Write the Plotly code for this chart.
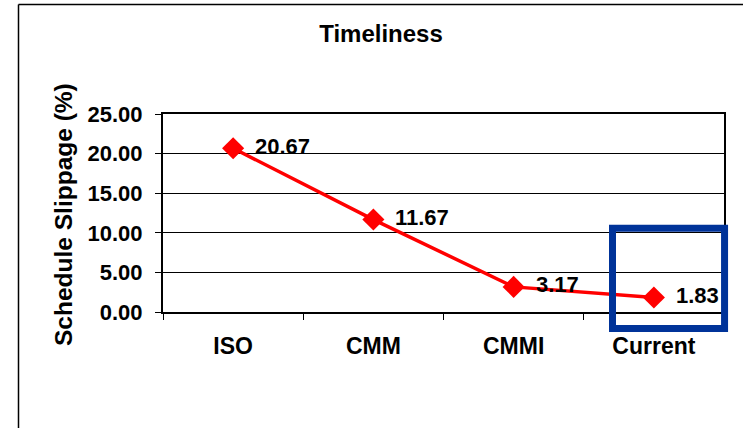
import plotly.graph_objects as go

# Schedule slippage by process model
categories = ["ISO", "CMM", "CMMI", "Current"]
slippage = [20.67, 11.67, 3.17, 1.83]
y_ticks = [0, 5, 10, 15, 20, 25]
y_tick_labels = ["0.00", "5.00", "10.00", "15.00", "20.00", "25.00"]

FONT = "Liberation Sans, Arial, sans-serif"
W, H = 743, 428
M_L, M_R, M_T, M_B = 163, 19, 114, 116
X_RANGE = [-0.5, len(categories) - 0.5]
Y_RANGE = [0, 25]
PLOT_W = W - M_L - M_R
PLOT_H = H - M_T - M_B

fig = go.Figure()
fig.add_trace(go.Scatter(
    x=categories, y=slippage, mode="lines+markers",
    line=dict(color="#FF0000", width=3.5),
    marker=dict(symbol="diamond", size=17, color="#FF0000"),
    showlegend=False, hoverinfo="skip",
))

# value labels to the right of each point
for c, v in zip(categories, slippage):
    fig.add_annotation(x=c, y=v, text=f"{v:.2f}", showarrow=False,
                       xanchor="left", yanchor="middle", xshift=20, yshift=2,
                       font=dict(family=FONT, size=22, color="black", weight="bold"))

# highlight box around the latest value (data units -> paper units)
def px(xd):
    return (xd - X_RANGE[0]) / (X_RANGE[1] - X_RANGE[0])

def py(yd):
    return (yd - Y_RANGE[0]) / (Y_RANGE[1] - Y_RANGE[0])

fig.add_shape(type="rect", xref="paper", yref="paper",
              x0=px(2.705), x1=px(3.504), y0=py(-2.09), y1=py(10.57),
              line=dict(color="#003399", width=7), fillcolor="rgba(0,0,0,0)")

# outer chart frame (left and top edges)
frame_x = (18.5 - M_L) / PLOT_W
frame_top = 1 + (M_T - 4.5) / PLOT_H
fig.add_shape(type="line", xref="paper", yref="paper",
              x0=frame_x, x1=frame_x, y0=frame_top, y1=-(M_B + 5) / PLOT_H,
              line=dict(color="black", width=1.5))
fig.add_shape(type="line", xref="paper", yref="paper",
              x0=frame_x, x1=(W + 5 - M_L) / PLOT_W, y0=frame_top, y1=frame_top,
              line=dict(color="black", width=1.5))

# y-axis title
fig.add_annotation(xref="paper", yref="paper", x=(64 - M_L) / PLOT_W, y=0.49,
                   text="Schedule Slippage (%)", textangle=-90, showarrow=False,
                   xanchor="center", yanchor="middle",
                   font=dict(family=FONT, size=24.5, color="black", weight="bold"))

fig.update_layout(
    width=W, height=H,
    margin=dict(l=M_L, r=M_R, t=M_T, b=M_B, pad=0),
    paper_bgcolor="white", plot_bgcolor="white",
    title=dict(text="Timeliness", x=(381 - M_L) / PLOT_W, xref="paper",
               xanchor="center", y=1 - 34 / H, yanchor="middle",
               font=dict(family=FONT, size=24, color="black", weight="bold")),
    xaxis=dict(range=X_RANGE, type="category", showgrid=False,
               showline=True, linecolor="black", linewidth=2, mirror=True,
               ticks="outside", tickson="boundaries", ticklen=6, tickcolor="black",
               tickwidth=1,
               tickfont=dict(family=FONT, size=23, color="black", weight="bold"),
               ticklabelstandoff=12),
    yaxis=dict(range=Y_RANGE, tickvals=y_ticks, ticktext=y_tick_labels,
               showgrid=True, gridcolor="black", gridwidth=1,
               showline=True, linecolor="black", linewidth=2, mirror=True,
               ticks="outside", ticklen=6, tickcolor="black", tickwidth=1,
               zeroline=False,
               tickfont=dict(family=FONT, size=22, color="black", weight="bold"),
               ticklabelstandoff=8),
)

fig.write_html("out.html")
